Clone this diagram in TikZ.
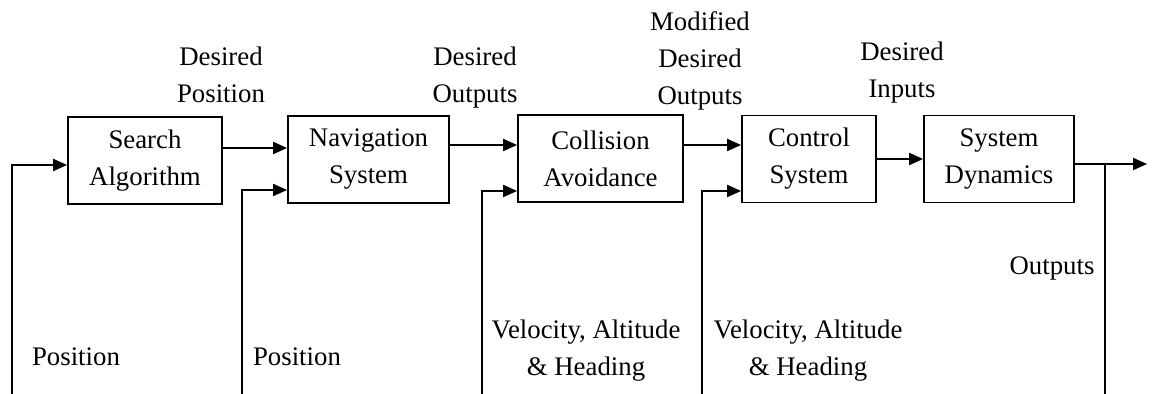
\documentclass[tikz,border=0pt]{standalone}
\usepackage{fontspec}
\setmainfont{Liberation Serif}
\usetikzlibrary{arrows.meta,positioning}

\begin{document}
\begin{tikzpicture}[
        x=0.5pt, y=-0.5pt,
        every node/.style={font=\fontsize{13.4}{18.5}\selectfont, inner sep=0pt},
        block/.style={draw, line width=0.9pt, minimum height=43.5pt, align=center},
        lbl/.style={align=center},
        flow/.style={draw, line width=1pt, -{Triangle[length=7pt,width=6pt]}},
        fb/.style={draw, line width=1pt},
    ]
    \useasboundingbox (0,0) rectangle (1155,394);

    % blocks
    \node[block, minimum width=77pt]   (search) at (145,160.5) {Search\\Algorithm};
    \node[block, minimum width=80.5pt] (nav)    at (368.5,159.5) {Navigation\\System};
    \node[block, minimum width=82.5pt] (coll)   at (600.5,158.5) {Collision\\Avoidance};
    \node[block, minimum width=67pt]   (ctrl)   at (809,159) {Control\\System};
    \node[block, minimum width=75pt]   (sys)    at (999,159) {System\\Dynamics};

    % forward path
    \draw[flow] (search.east |- 0,148) -- (nav.west |- 0,148);
    \draw[flow] (nav.east |- 0,145) -- (coll.west |- 0,145);
    \draw[flow] (coll.east |- 0,145) -- (ctrl.west |- 0,145);
    \draw[flow] (ctrl.east |- 0,159) -- (sys.west |- 0,159);
    \coordinate (out) at (1147,164);
    \draw[flow] (sys.east |- out) -- (out);

    % feedback inputs
    \coordinate (fb1) at (12,394);
    \coordinate (fb2) at (242,394);
    \coordinate (fb3) at (482,394);
    \coordinate (fb4) at (702,394);
    \draw[flow] (fb1) |- (search.west |- 0,165);
    \draw[flow] (fb2) |- (nav.west |- 0,190);
    \draw[flow] (fb3) |- (coll.west |- 0,191);
    \draw[flow] (fb4) |- (ctrl.west |- 0,191);
    \coordinate (tap) at (1105,164);
    \coordinate (tapend) at (1105,394);
    \draw[fb] (tap) -- (tapend);

    % labels
    \node[lbl] (despos)  at (221,75)  {Desired\\Position};
    \node[lbl] (desout)  at (475,78)  {Desired\\Outputs};
    \node[lbl] (moddes)  at (700,61)  {Modified\\Desired\\Outputs};
    \node[lbl] (desin)   at (902,73)  {Desired\\Inputs};
    \node[lbl] (outs)    at (1052,268) {Outputs};
    \node[lbl] (pos1)    at (76,357)  {Position};
    \node[lbl] (pos2)    at (297,357) {Position};
    \node[lbl] (vah1)    at (586,351) {Velocity, Altitude\\\& Heading};
    \node[lbl] (vah2)    at (808,351) {Velocity, Altitude\\\& Heading};
\end{tikzpicture}
\end{document}
